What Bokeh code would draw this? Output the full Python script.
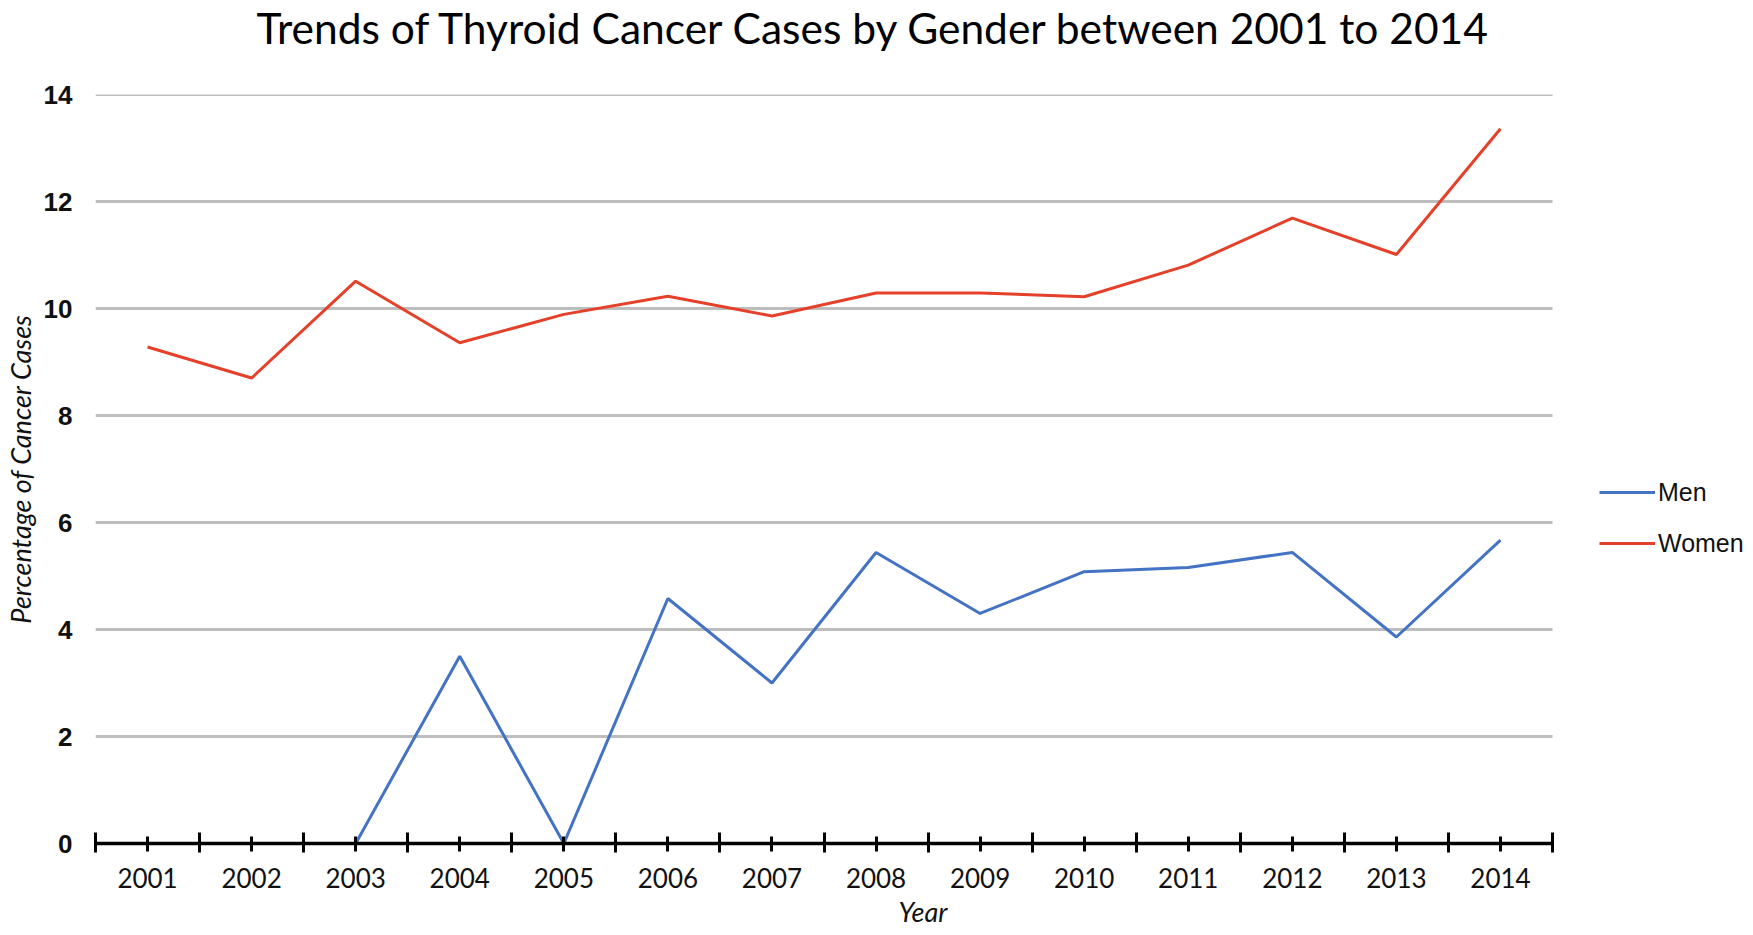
import numpy as np
from bokeh.plotting import figure
from bokeh.models import Range1d, FixedTicker, Legend, LegendItem, Title
from bokeh.embed import file_html
from bokeh.resources import INLINE

# ---- data ----
years = [2001, 2002, 2003, 2004, 2005, 2006, 2007, 2008, 2009, 2010, 2011, 2012, 2013, 2014]
year_labels = ["2001", "2002", "2003", "2004", "2005", "2006", "2007",
               "2008", "2009", "2010", "2011", "2012", "2013", "2014"]
women = [9.28, 8.70, 10.51, 9.36, 9.89, 10.23, 9.86, 10.29, 10.29, 10.22, 10.81, 11.69, 11.01, 13.36]
men = [None, None, 0.0, 3.50, 0.0, 4.58, 3.00, 5.44, 4.30, 5.08, 5.16, 5.44, 3.86, 5.67]
y_ticks = [0, 2, 4, 6, 8, 10, 12, 14]
series_names = ["Men", "Women"]
title_text = "Trends of Thyroid Cancer Cases by Gender between 2001 to 2014"
x_title = "Year"
y_title = "Percentage of Cancer Cases"

men_arr = np.array([np.nan if v is None else v for v in men], dtype=float)
women_arr = np.array(women, dtype=float)
x_arr = np.array(years, dtype=float)

# ---- layout constants (pixels) ----
FIG_W, FIG_H = 1750, 933
PLOT_L, PLOT_R, PLOT_T, AXIS_Y = 95, 1552, 94, 843
FRAME_W = FIG_W - PLOT_L
FRAME_H = AXIS_Y - PLOT_T
HUM = "Lato"

x_lo, x_hi = years[0] - 0.5, years[-1] + 0.5
y_lo, y_hi = y_ticks[0], y_ticks[-1]
x_end = x_lo + (x_hi - x_lo) * FRAME_W / (PLOT_R - PLOT_L)

p = figure(
    frame_width=FRAME_W, frame_height=FRAME_H,
    x_range=Range1d(x_lo, x_end), y_range=Range1d(y_lo, y_hi),
    output_backend="svg", toolbar_location=None,
    min_border_left=PLOT_L, min_border_right=0, min_border_top=PLOT_T,
    min_border_bottom=FIG_H - AXIS_Y,
)
p.outline_line_color = None
p.background_fill_color = "white"
p.border_fill_color = "white"
p.xgrid.grid_line_color = None
p.ygrid.grid_line_color = None

# horizontal gridlines limited to the plot area
gy = y_ticks[1:]
p.segment(x0=[x_lo] * len(gy), y0=gy, x1=[x_hi] * len(gy), y1=gy,
          line_color="#BDBDBD", line_width=3)

# title: an empty spacer panel next to the frame lifts the real title to the top
p.add_layout(Title(text=" ", text_font_size="10px", standoff=27), "above")
p.add_layout(Title(text=title_text, align="left", offset=161, vertical_align="top",
                   standoff=0, text_font=HUM, text_font_size="42.5px",
                   text_font_style="normal", text_color="#000000"), "above")

# y axis
p.yaxis.bounds = (y_lo, y_hi)
p.yaxis.ticker = FixedTicker(ticks=y_ticks)
p.yaxis.axis_line_color = None
p.yaxis.major_tick_line_color = None
p.yaxis.minor_tick_line_color = None
p.yaxis.major_tick_out = 0
p.yaxis.major_tick_in = 0
p.yaxis.minor_tick_out = 0
p.yaxis.minor_tick_in = 0
p.yaxis.major_label_standoff = 23
p.yaxis.major_label_text_font = "Liberation Sans"
p.yaxis.major_label_text_font_style = "bold"
p.yaxis.major_label_text_font_size = "26px"
p.yaxis.major_label_text_color = "#111111"
p.yaxis.axis_label = y_title
p.yaxis.axis_label_text_font = HUM
p.yaxis.axis_label_text_font_style = "italic"
p.yaxis.axis_label_text_font_size = "27px"
p.yaxis.axis_label_standoff = 4
p.yaxis.axis_label_text_color = "#111111"

# x axis
p.xaxis.bounds = (x_lo, x_hi)
p.xaxis.ticker = FixedTicker(ticks=years, minor_ticks=[y + 0.5 for y in [years[0] - 1] + years])
p.xaxis.major_label_overrides = {y: lab for y, lab in zip(years, year_labels)}
p.xaxis.axis_line_color = "black"
p.xaxis.axis_line_width = 3.5
p.xaxis.major_tick_line_color = "black"
p.xaxis.major_tick_line_width = 3
p.xaxis.major_tick_in = 7
p.xaxis.major_tick_out = 8
p.xaxis.minor_tick_line_color = "black"
p.xaxis.minor_tick_line_width = 3
p.xaxis.minor_tick_in = 11
p.xaxis.minor_tick_out = 9
p.xaxis.major_label_standoff = 15
p.xaxis.major_label_text_font = HUM
p.xaxis.major_label_text_font_size = "26px"
p.xaxis.major_label_text_color = "#111111"
p.xaxis.axis_label = x_title
p.xaxis.axis_label_text_font = HUM
p.xaxis.axis_label_text_font_style = "italic"
p.xaxis.axis_label_text_font_size = "27px"
p.xaxis.axis_label_standoff = 4
p.xaxis.axis_label_text_color = "#111111"

# lines
r_men = p.line(x_arr, men_arr, line_color="#4472C4", line_width=3)
r_women = p.line(x_arr, women_arr, line_color="#E5402A", line_width=3)

legend = Legend(items=[LegendItem(label=series_names[0], renderers=[r_men]),
                       LegendItem(label=series_names[1], renderers=[r_women])],
                location=(1599 - PLOT_L, AXIS_Y - 558), orientation="vertical",
                glyph_width=56, glyph_height=30, label_standoff=3, spacing=21,
                padding=0, margin=0, border_line_color=None, background_fill_alpha=0,
                label_text_font="Liberation Sans", label_text_font_size="25px",
                label_text_color="#111111")
p.add_layout(legend, "center")

open("out.html", "w").write(file_html(p, INLINE))
